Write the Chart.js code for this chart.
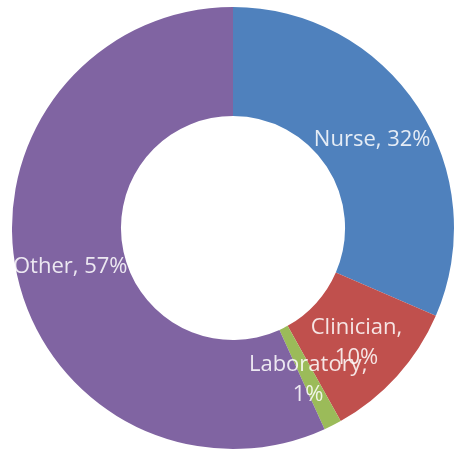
<!DOCTYPE html>
<html>
<head>
<meta charset="utf-8">
<script src="https://cdn.jsdelivr.net/npm/chart.js@4"></script>
<style>
  html, body { margin: 0; padding: 0; background: #ffffff; }
  #wrap { width: 458px; height: 453px; }
</style>
</head>
<body>
<div id="wrap"><canvas id="c" width="458" height="453"></canvas></div>
<script>
const categories = ['Nurse', 'Clinician', 'Laboratory', 'Other'];
const values = [31.5, 10.4, 1.3, 56.8];
const labelLines = [['Nurse, 32%'], ['Clinician,', '10%'], ['Laboratory,', '1%'], ['Other, 57%']];
const colors = ['#4f81bd', '#c0504d', '#9bbb59', '#8064a2'];

const sliceLabels = {
  id: 'sliceLabels',
  afterDatasetsDraw(chart) {
    const ctx = chart.ctx;
    const meta = chart.getDatasetMeta(0);
    ctx.save();
    ctx.font = '22px "Open Sans", sans-serif';
    ctx.fillStyle = 'rgba(255,255,255,0.85)';
    ctx.textAlign = 'center';
    ctx.textBaseline = 'middle';
    const lh = 30;
    meta.data.forEach((arc, i) => {
      const p = arc.tooltipPosition();
      const lines = labelLines[i];
      const y0 = p.y + 3 - (lines.length - 1) * lh / 2;
      lines.forEach((t, j) => ctx.fillText(t, p.x, y0 + j * lh));
    });
    ctx.restore();
  }
};

new Chart(document.getElementById('c'), {
  type: 'doughnut',
  data: {
    labels: categories,
    datasets: [{
      data: values,
      backgroundColor: colors,
      borderWidth: 0
    }]
  },
  options: {
    responsive: false,
    animation: false,
    cutout: '50.7%',
    layout: { padding: { left: 12, right: 4, top: 7, bottom: 4 } },
    plugins: {
      legend: { display: false },
      tooltip: { enabled: false }
    }
  },
  plugins: [sliceLabels]
});
</script>
</body>
</html>
